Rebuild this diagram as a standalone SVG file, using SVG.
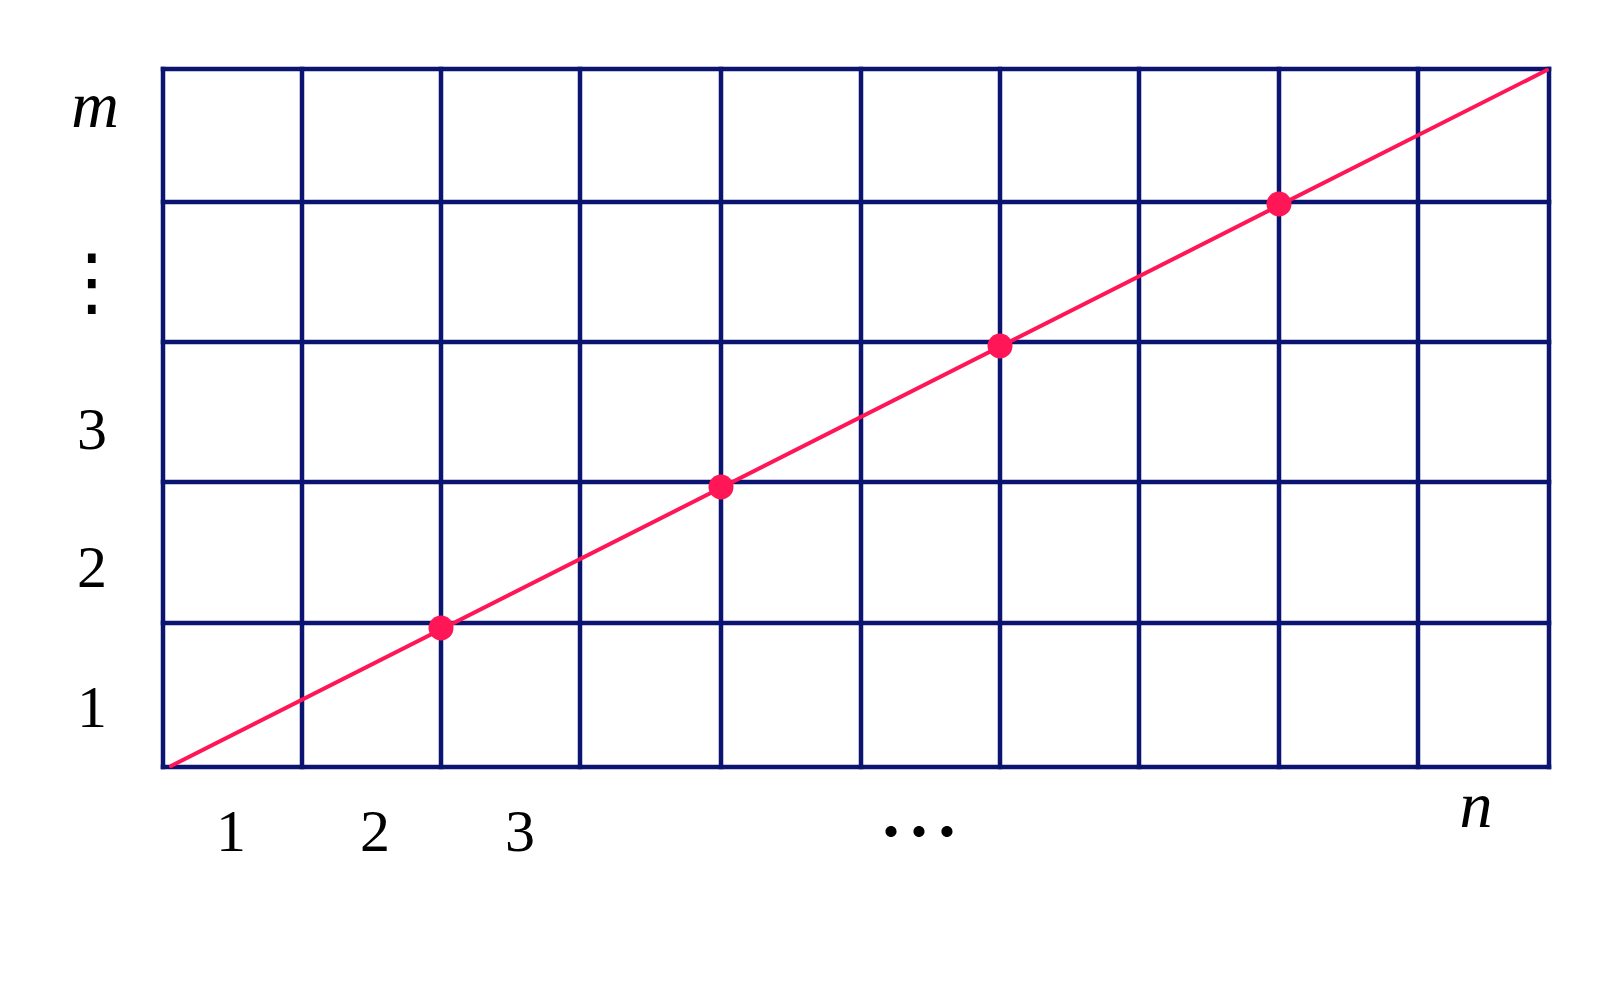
<svg xmlns="http://www.w3.org/2000/svg" width="1599" height="984" viewBox="0 0 1599 984">
  <style>
    .grid line { stroke: #0b1470; stroke-width: 4.5; stroke-linecap: square; }
    .diag { stroke: #ff1656; stroke-width: 4; stroke-linecap: round; fill: none; }
    .pt { fill: #ff1656; }
    .lbl { font-family: "Liberation Serif", "Times New Roman", serif; font-size: 60px; fill: #000; text-anchor: middle; }
    .var { font-family: "Liberation Serif", "Times New Roman", serif; font-style: italic; font-size: 66px; fill: #000; text-anchor: middle; }
    .dots { font-family: "Noto Sans CJK SC", "DejaVu Sans", sans-serif; font-size: 84px; fill: #000; text-anchor: middle; }
    .vdots { font-family: "DejaVu Serif", "DejaVu Sans", serif; font-size: 75px; fill: #000; text-anchor: middle; }
  </style>
  <rect width="1599" height="984" fill="#ffffff"/>
  <g id="grid" class="grid">
    <line x1="163" y1="69" x2="1549" y2="69"/>
    <line x1="163" y1="202" x2="1549" y2="202"/>
    <line x1="163" y1="342" x2="1549" y2="342"/>
    <line x1="163" y1="482" x2="1549" y2="482"/>
    <line x1="163" y1="623" x2="1549" y2="623"/>
    <line x1="163" y1="767" x2="1549" y2="767"/>
    <line x1="163" y1="69" x2="163" y2="767"/>
    <line x1="302" y1="69" x2="302" y2="767"/>
    <line x1="441" y1="69" x2="441" y2="767"/>
    <line x1="580" y1="69" x2="580" y2="767"/>
    <line x1="721" y1="69" x2="721" y2="767"/>
    <line x1="861" y1="69" x2="861" y2="767"/>
    <line x1="1000" y1="69" x2="1000" y2="767"/>
    <line x1="1139" y1="69" x2="1139" y2="767"/>
    <line x1="1279" y1="69" x2="1279" y2="767"/>
    <line x1="1418" y1="69" x2="1418" y2="767"/>
    <line x1="1549" y1="69" x2="1549" y2="767"/>
  </g>
  <g id="connectors">
    <line class="diag" x1="171" y1="766" x2="1547" y2="70"/>
  </g>
  <g id="points">
    <circle id="p1" class="pt" cx="441" cy="628" r="12.5"/>
    <circle id="p2" class="pt" cx="721" cy="487" r="12.5"/>
    <circle id="p3" class="pt" cx="1000" cy="346" r="12.5"/>
    <circle id="p4" class="pt" cx="1279" cy="204" r="12.5"/>
  </g>
  <g id="y-labels">
    <text class="var" x="95" y="127">m</text>
    <text class="vdots" x="92" y="307">⋮</text>
    <text class="lbl" x="92" y="449">3</text>
    <text class="lbl" x="92" y="587">2</text>
    <text class="lbl" x="92" y="727">1</text>
  </g>
  <g id="x-labels">
    <text class="lbl" x="231" y="851">1</text>
    <text class="lbl" x="375" y="851">2</text>
    <text class="lbl" x="520" y="851">3</text>
    <text class="dots" x="919" y="864">⋯</text>
    <text class="var" x="1476" y="827">n</text>
  </g>
</svg>
